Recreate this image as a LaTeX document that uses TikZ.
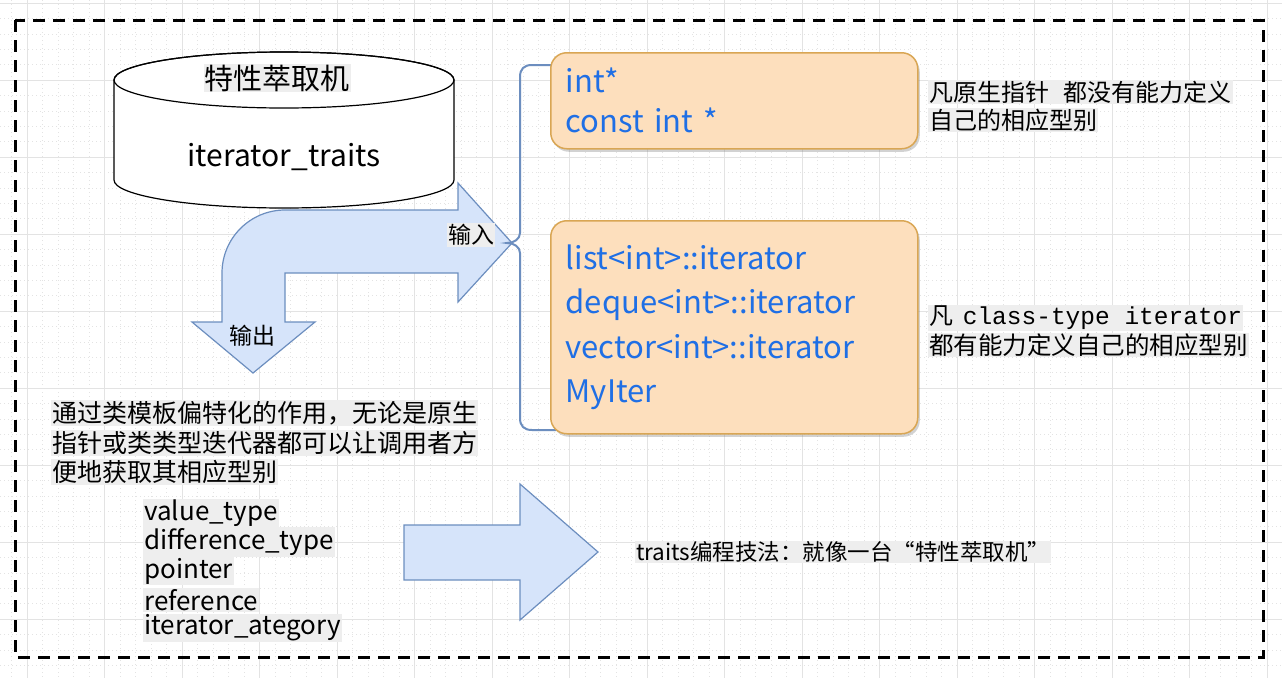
\documentclass[tikz,border=0pt]{standalone}
\usepackage{fontspec}
\setmainfont{Noto Sans CJK SC}
\newfontfamily\codefont{Liberation Mono}
\usepackage{tikz}
\usetikzlibrary{shadows}
\definecolor{ArrowFill}{HTML}{D6E4FA}
\definecolor{ArrowLine}{HTML}{6C8EBF}
\definecolor{BoxFill}  {HTML}{FDDFBD}
\definecolor{BoxLine}  {HTML}{D9A654}
\definecolor{TypeBlue} {HTML}{1F6FE5}
\definecolor{HiGray}   {HTML}{EEEEEE}
\definecolor{GridGray} {HTML}{E3E3E3}

\begin{document}
\begin{tikzpicture}[x=1pt,y=-1pt,
    gridline/.style={GridGray,line width=0.8pt},
    subgrid/.style={GridGray,line width=0.6pt,dash pattern=on 1pt off 3pt},
    hilite/.style={fill=HiGray,inner sep=1pt,anchor=west},
    typebox/.style={draw=BoxLine,fill=BoxFill,line width=1.5pt,rounded corners=16pt,
      inner xsep=15pt,inner ysep=4pt,text width=337pt,align=left,text=TypeBlue,
      anchor=north west,drop shadow={shadow xshift=2pt,shadow yshift=-3pt,opacity=0.35}},
    fatarrow/.style={draw=ArrowLine,fill=ArrowFill,line width=1.2pt,line join=miter},
    bracket/.style={ArrowLine,line width=2pt}]
    \useasboundingbox (0,0) rectangle (1282,678);
    \fill[white] (0,0) rectangle (1282,678);
    % background grid
    \foreach \k in {0,...,82}{
      \draw[subgrid] ({11.5+15.5*\k},0) -- ({11.5+15.5*\k},678);
    }
    \foreach \k in {0,...,44}{
      \draw[subgrid] (0,{3+15.4*\k}) -- (1282,{3+15.4*\k});
    }
    \foreach \k in {0,...,16}{
      \draw[gridline] ({27+77.5*\k},0) -- ({27+77.5*\k},678);
    }
    \foreach \k in {0,...,8}{
      \draw[gridline] (0,{3+77*\k}) -- (1282,{3+77*\k});
    }
    % dashed frame
    \draw[line width=3pt,dash pattern=on 12pt off 8pt] (15,20) rectangle (1263,657);
    % cylinder
    \draw[line width=1.2pt,fill=white] (114,80) -- (114,180)
      arc[start angle=180,end angle=0,x radius=170,y radius=28] -- (454,80)
      arc[start angle=0,end angle=-180,x radius=170,y radius=28] -- cycle;
    \draw[line width=1.2pt] (284,80) ellipse[x radius=170,y radius=28];
    \node[fill=HiGray,inner sep=1pt,font=\fontsize{29}{32}\selectfont] (machine) at (277,78) {特性萃取机};
    \node[font=\fontsize{30}{32}\selectfont] (traits) at (284,157) {iterator\_traits};
    % in/out arrow
    \draw[fatarrow] (512,243) -- (458,183) -- (458,210) -- (285,210)
      arc[start angle=270,end angle=180,radius=63] -- (222,322) -- (192,322)
      -- (253,373) -- (315,322) -- (285,322) -- (285,273) -- (458,273) -- (458,302) -- cycle;
    \node[fill=HiGray,inner sep=1pt,font=\fontsize{23}{26}\selectfont] (inlabel) at (471,235) {输入};
    \node[font=\fontsize{23}{26}\selectfont] (outlabel) at (252,336) {输出};
    % brace
    \draw[bracket] (556,65) -- (532,65) .. controls (524,65) and (520,69) .. (520,77) -- (520,233)
      .. controls (520,239) and (514,243) .. (507,243)
      .. controls (514,243) and (520,247) .. (520,253) -- (520,418)
      .. controls (520,426) and (524,430) .. (532,430) -- (556,430);
    % type boxes
    \node[typebox,minimum height=96pt,font=\fontsize{31}{40}\selectfont] (rawptr) at (550,52)
      {int*\\const int *};
    \node[typebox,minimum height=213pt,font=\fontsize{31}{44.5}\selectfont] (classiter) at (550,220)
      {list<int>::iterator\\deque<int>::iterator\\vector<int>::iterator\\MyIter};
    % notes right
    \node[hilite,font=\fontsize{24}{28}\selectfont] (rawnoteA) at (928,92) {凡原生指针\hspace{0.6em}都没有能力定义};
    \node[hilite,font=\fontsize{24}{28}\selectfont] (rawnoteB) at (928,120) {自己的相应型别};
    \node[hilite,font=\fontsize{24}{28}\selectfont] (clsnoteA) at (928,318)
      {凡\hspace{0.4em}{\codefont\fontsize{24.5}{28}\selectfont class-type iterator}};
    \node[hilite,font=\fontsize{24.5}{28}\selectfont] (clsnoteB) at (928,345) {都有能力定义自己的相应型别};
    % usage text
    \foreach \ln/\yy/\txt in {1/413/通过类模板偏特化的作用，无论是原生,
      2/443/指针或类类型迭代器都可以让调用者方,
      3/472/便地获取其相应型别}{
      \node[hilite,font=\fontsize{25}{30}\selectfont] (usage\ln) at (51,\yy) {\txt};
    }
    % member types
    \foreach \ln/\yy/\txt in {1/513/value\_type,2/542/difference\_type,3/571/pointer,
      4/600/reference,5/628/iterator\_ategory}{
      \node[hilite,font=\fontsize{26}{29}\selectfont] (member\ln) at (143,\yy) {\txt};
    }
    % result arrow
    \draw[fatarrow] (404,525) -- (520,525) -- (520,484) -- (598,552) -- (520,620)
      -- (520,580) -- (404,580) -- cycle;
    \node[hilite,font=\fontsize{22.5}{26}\selectfont] (summary) at (635,552) {traits编程技法：就像一台“特性萃取机”};
\end{tikzpicture}
\end{document}
